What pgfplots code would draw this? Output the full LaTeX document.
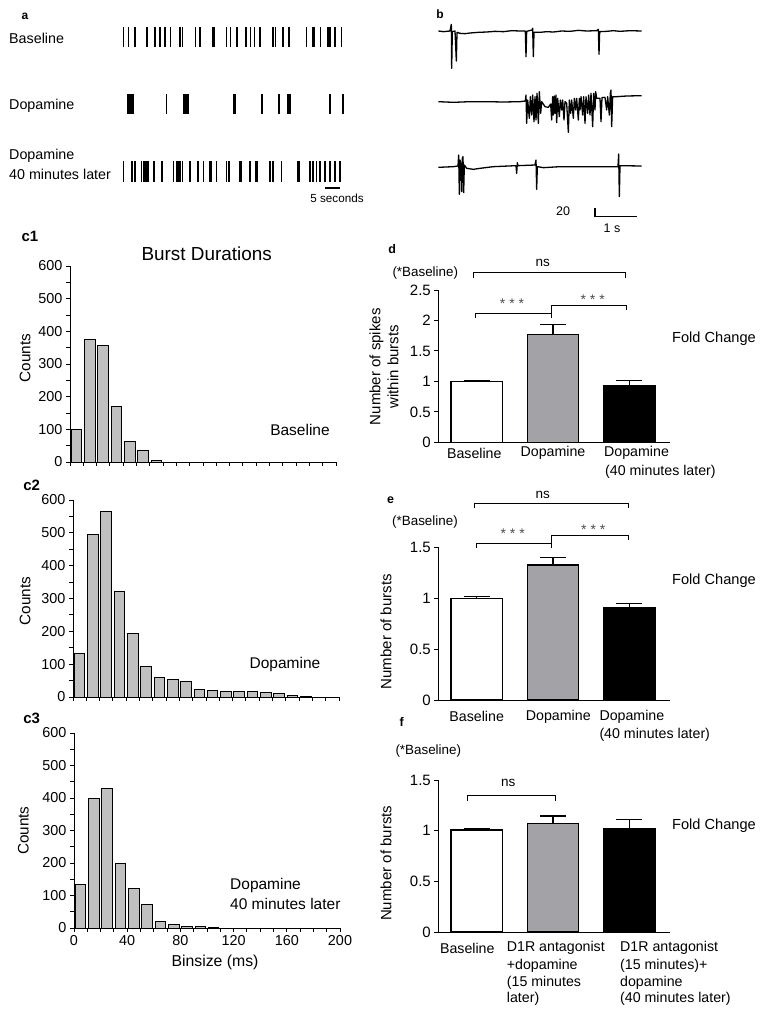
\documentclass[border=0pt]{standalone}
\usepackage{fontspec}
\setmainfont{Liberation Sans}
\usepackage{pgfplots}
\pgfplotsset{compat=1.18}
\definecolor{histgray}{RGB}{192,192,192}
\definecolor{bargray}{RGB}{163,163,167}
\pgfplotsset{
 hist/.style={scale only axis, width=266pt, xmin=0, xmax=200, ymin=0, ymax=600,
   axis lines=left, axis line style={-, line width=1pt}, tick align=outside,
   major tick length=4pt, minor tick length=4pt,
   xtick={0,40,...,200}, minor xtick={10,20,...,190},
   ytick={0,100,...,600}, minor ytick={50,150,...,550},
   tick style={black, line width=0.9pt}, ybar, bar width=8, bar shift=0pt,
   /pgf/number format/assume math mode=true,
   tick label style={font=\fontsize{14.4}{16}\selectfont}, clip=false},
 histbar/.style={fill=histgray, draw=black, line width=1pt},
 fold/.style={scale only axis, width=231.7pt, xmin=-0.5, xmax=2.53, ymin=0,
   axis lines=left, axis line style={-, line width=1pt}, tick align=outside,
   major tick length=4pt, xtick=\empty, ybar, bar width=0.67, bar shift=0pt,
   tick style={black, line width=0.9pt}, /pgf/number format/assume math mode=true,
   tick label style={font=\fontsize{15}{17}\selectfont}, clip=false},
 errb/.style={error bars/.cd, y dir=plus, y explicit, error mark=|,
   error mark options={black, mark size=13pt, line width=1.2pt},
   error bar style={black, line width=1.2pt}},
 raster/.style={scale only axis, hide axis, width=225pt, xmin=0, xmax=75, ymin=0, ymax=1, clip=false},
 spk/.style={ycomb, black, line width=1.6pt, mark=none},
 trace/.style={black, line width=1.3pt, line join=round, mark=none},
}
\begin{document}
\begin{tikzpicture}
\path[use as bounding box] (0,0) rectangle (765pt,-1018pt);

% ---------- panel a : rasters ----------
\begin{axis}[raster, height=20pt, at={(123.3pt,-47pt)}, anchor=south west]
\addplot[spk] coordinates {(0,1)(1.7,1)(3.8,1)(7.8,1)(10.6,1)(12.2,1)(13.9,1)(15.8,1)(18.9,1)(19.7,1)(24.1,1)(25.6,1)(29.7,1)(30.1,1)(30.4,1)(34.4,1)(35.8,1)(38,1)(40.9,1)(42.4,1)(43.7,1)(45.6,1)(50,1)(50.8,1)(53.3,1)(55.3,1)(61.1,1)(63.3,1)(63.8,1)(65.8,1)(68.3,1)(68.9,1)(70.6,1)(72.8,1)};
\end{axis}
\begin{axis}[raster, height=20pt, at={(123.3pt,-114pt)}, anchor=south west]
\addplot[spk] coordinates {(14.4,1)(46.3,1)(51.9,1)(68.9,1)(73.3,1)};
\addplot[spk, line width=7.5pt] coordinates {(2.35,1)};
\addplot[spk, line width=6.3pt] coordinates {(20.85,1)};
\addplot[spk, line width=2.8pt] coordinates {(37.15,1)};
\addplot[spk, line width=3.6pt] coordinates {(55.3,1)};
\end{axis}
\begin{axis}[raster, height=21pt, at={(123.3pt,-182pt)}, anchor=south west]
\addplot[spk] coordinates {(0,1)(2.8,1)(3.9,1)(6.1,1)(6.7,1)(7.2,1)(7.8,1)(8.3,1)(10.2,1)(12.8,1)(16.7,1)(17.8,1)(18.3,1)(18.9,1)(19.8,1)(22.2,1)(25,1)(26.7,1)(28.9,1)(29.4,1)(31.1,1)(34.4,1)(35.3,1)(38.9,1)(39.4,1)(42.2,1)(44.2,1)(44.8,1)(48.9,1)(50,1)(52.8,1)(58.1,1)(58.6,1)(62.2,1)(63.3,1)(64.4,1)(65.6,1)(67.2,1)(68.9,1)(70.6,1)(72.2,1)};
\end{axis}

% ---------- panel b : traces ----------
\begin{axis}[scale only axis, hide axis, width=345pt, height=225pt, xmin=0, xmax=1035, ymin=0, ymax=675, y dir=reverse, at={(420pt,0pt)}, anchor=north west, clip=false]
\addplot[trace] coordinates {(55,93)(70,95)(90,93)(94,73)(95,205)(97,95)(105,93)(109,183)(111,97)(120,100)(135,101)(150,99)(175,97)(200,96)(225,94)(250,95)(275,92)(300,93)(316,93)(318,170)(320,94)(336,90)(338,85)(340,170)(342,97)(360,97)(380,95)(400,96)(425,93)(450,94)(475,91)(500,93)(530,92)(535,88)(537,163)(539,95)(560,94)(580,92)(600,94)(630,92)(665,93)};
\addplot[trace] coordinates {(55,305)(100,307)(150,305)(200,305)(250,306)(300,305)(316,303)(318,285)(320,370)(323,300)(328,355)(331,290)(335,345)(338,285)(342,365)(345,290)(348,360)(351,280)(355,370)(358,275)(362,340)(365,305)(375,320)(385,322)(392,312)(395,360)(398,290)(400,345)(403,288)(405,340)(408,285)(410,368)(413,295)(418,350)(421,300)(425,330)(428,300)(432,360)(435,305)(440,310)(445,397)(448,300)(452,340)(455,300)(460,355)(463,295)(467,330)(470,295)(475,360)(478,295)(480,330)(483,290)(488,345)(491,290)(495,370)(498,290)(503,340)(506,285)(510,345)(513,280)(518,380)(521,280)(525,330)(527,275)(530,295)(540,295)(543,365)(546,293)(555,292)(560,330)(563,290)(568,345)(571,280)(573,270)(575,380)(578,290)(590,290)(620,288)(665,287)};
\addplot[trace] coordinates {(55,502)(100,500)(114,498)(116,465)(118,583)(120,480)(123,495)(125,575)(127,475)(129,470)(131,578)(133,495)(140,505)(160,508)(180,505)(220,500)(288,497)(290,520)(292,488)(294,497)(345,495)(348,480)(350,568)(352,500)(370,503)(420,500)(500,500)(594,500)(596,462)(598,590)(600,497)(665,498)};
\addplot[black, line width=1.1pt, mark=none] coordinates {(525,625)(525,650)(652,650)};
\end{axis}

% ---------- panel c : histograms ----------
\begin{axis}[hist, height=196pt, at={(70pt,-462pt)}, anchor=south west, xticklabels={}]
\addplot[histbar] coordinates {(5,100)(15,374)(25,357)(35,170)(45,64)(55,35)(65,6)};
\end{axis}
\begin{axis}[hist, height=197pt, at={(73pt,-697pt)}, anchor=south west, xticklabels={}]
\addplot[histbar] coordinates {(5,132)(15,496)(25,566)(35,320)(45,192)(55,94)(65,59)(75,52)(85,47)(95,23)(105,21)(115,18)(125,16)(135,16)(145,13)(155,11)(165,6)(175,2)};
\end{axis}
\begin{axis}[hist, height=195pt, at={(74pt,-928pt)}, anchor=south west]
\addplot[histbar] coordinates {(5,134)(15,400)(25,430)(35,200)(45,121)(55,71)(65,19)(75,11)(85,6)(95,4)(105,2)};
\end{axis}

% ---------- panels d, e, f : fold change ----------
\begin{axis}[fold, height=152.3pt, ymax=2.5, ytick={0,0.5,1,1.5,2,2.5}, yticklabels={0,0.5,1,1.5,2,2.5}, at={(438.3pt,-442.3pt)}, anchor=south west]
\addplot[fill=white, draw=black, line width=1.2pt, errb] table[y error index=2] {0 1.0 0.02
};
\addplot[fill=bargray, draw=black, line width=1.2pt, errb] table[y error index=2] {1 1.77 0.17
};
\addplot[fill=black, draw=black, line width=1.2pt, errb] table[y error index=2] {2 0.93 0.09
};
\end{axis}
\begin{axis}[fold, height=152.7pt, ymax=1.5, ytick={0,0.5,1,1.5}, yticklabels={0,0.5,1,1.5}, at={(438.3pt,-700pt)}, anchor=south west]
\addplot[fill=white, draw=black, line width=1.2pt, errb] table[y error index=2] {0 1.0 0.015
};
\addplot[fill=bargray, draw=black, line width=1.2pt, errb] table[y error index=2] {1 1.327 0.073
};
\addplot[fill=black, draw=black, line width=1.2pt, errb] table[y error index=2] {2 0.91 0.037
};
\end{axis}
\begin{axis}[fold, height=152pt, ymax=1.5, ytick={0,0.5,1,1.5}, yticklabels={0,0.5,1,1.5}, at={(438.3pt,-932pt)}, anchor=south west]
\addplot[fill=white, draw=black, line width=1.2pt, errb] table[y error index=2] {0 1.007 0.01
};
\addplot[fill=bargray, draw=black, line width=1.2pt, errb] table[y error index=2] {1 1.072 0.073
};
\addplot[fill=black, draw=black, line width=1.2pt, errb] table[y error index=2] {2 1.02 0.09
};
\end{axis}

% ---------- text ----------
\begin{scope}[x=1pt, y=-1pt]
\tikzset{every node/.style={inner sep=0pt}}
% a
\node[font=\fontsize{12}{14}\bfseries\selectfont] at (25,16) {a};
\node[anchor=west, font=\fontsize{14.3}{16}\selectfont] at (9,38) {Baseline};
\node[anchor=west, font=\fontsize{14.3}{16}\selectfont] at (9,106) {Dopamine};
\node[anchor=west, font=\fontsize{14.3}{16}\selectfont] at (9,156) {Dopamine};
\node[anchor=west, font=\fontsize{14.3}{16}\selectfont] at (9,174) {40 minutes later};
\draw[line width=1.5pt] (325,188) -- (340,188);
\node[font=\fontsize{11.7}{13}\selectfont] at (337,198.5) {5 seconds};
% b
\node[font=\fontsize{12}{14}\bfseries\selectfont] at (440,14) {b};
\node[font=\fontsize{12.5}{14}\selectfont] at (563,211) {20};
\node[font=\fontsize{12.5}{14}\selectfont] at (612,228) {1 s};
% c
\node[font=\fontsize{15}{17}\bfseries\selectfont] at (30,236) {c1};
\node[font=\fontsize{15}{17}\bfseries\selectfont] at (31.7,485) {c2};
\node[font=\fontsize{15}{17}\bfseries\selectfont] at (31.7,718) {c3};
\node[font=\fontsize{18.9}{21}\selectfont] at (206.7,253.3) {Burst Durations};
\node[font=\fontsize{15.5}{17}\selectfont] at (300,430) {Baseline};
\node[font=\fontsize{15.5}{17}\selectfont] at (285,664) {Dopamine};
\node[anchor=west, font=\fontsize{15.5}{17}\selectfont] at (230,885) {Dopamine};
\node[anchor=west, font=\fontsize{15.5}{17}\selectfont] at (230,904) {40 minutes later};
\node[rotate=90, font=\fontsize{15.3}{17}\selectfont] at (25,358) {Counts};
\node[rotate=90, font=\fontsize{15.3}{17}\selectfont] at (25,601) {Counts};
\node[rotate=90, font=\fontsize{15.3}{17}\selectfont] at (23.3,830.7) {Counts};
\node[font=\fontsize{15.8}{18}\selectfont] at (215,962) {Binsize (ms)};
% d
\node[font=\fontsize{12.5}{14}\bfseries\selectfont] at (392.3,249.3) {d};
\node[font=\fontsize{13.4}{15}\selectfont] at (425.3,273.3) {(*Baseline)};
\node[font=\fontsize{13.5}{15}\selectfont] at (542.7,262.7) {ns};
\draw[line width=1pt] (473.3,278.3) -- (473.3,272.7) -- (625.7,272.7) -- (625.7,278.3);
\node[font=\fontsize{14}{15}\selectfont, text=black!70] at (512,303.3) {* * *};
\node[font=\fontsize{14}{15}\selectfont, text=black!70] at (592.7,299.3) {* * *};
\draw[line width=1pt] (475.7,318.3) -- (475.7,313.3) -- (551,313.3);
\draw[line width=1pt] (551,318.3) -- (551,305) -- (626.7,305) -- (626.7,310);
\node[rotate=90, align=center, font=\fontsize{15}{18}\selectfont] at (384,366.7) {Number of spikes\\within bursts};
\node[font=\fontsize{14.6}{16}\selectfont] at (714,338.3) {Fold Change};
\node[font=\fontsize{14.2}{16}\selectfont] at (474.3,453.3) {Baseline};
\node[font=\fontsize{14.2}{16}\selectfont] at (553,453.3) {Dopamine};
\node[anchor=west, font=\fontsize{14.2}{16}\selectfont] at (604,453.3) {Dopamine};
\node[anchor=west, font=\fontsize{14.2}{16}\selectfont] at (605,471.7) {(40 minutes later)};
% e
\node[font=\fontsize{12.5}{14}\bfseries\selectfont] at (390.7,500) {e};
\node[font=\fontsize{13.4}{15}\selectfont] at (425,521.7) {(*Baseline)};
\node[font=\fontsize{13.5}{15}\selectfont] at (542.7,495) {ns};
\draw[line width=1pt] (474.3,508.3) -- (474.3,503.3) -- (628.3,503.3) -- (628.3,508.3);
\node[font=\fontsize{14}{15}\selectfont, text=black!70] at (512.7,533.3) {* * *};
\node[font=\fontsize{14}{15}\selectfont, text=black!70] at (593.3,529.3) {* * *};
\draw[line width=1pt] (476.7,548.3) -- (476.7,543.3) -- (551.7,543.3);
\draw[line width=1pt] (551.7,548.3) -- (551.7,535) -- (628.3,535) -- (628.3,540);
\node[rotate=90, font=\fontsize{15}{18}\selectfont] at (386,631.7) {Number of bursts};
\node[font=\fontsize{14.6}{16}\selectfont] at (714,581) {Fold Change};
\node[font=\fontsize{14.2}{16}\selectfont] at (476.7,716.7) {Baseline};
\node[font=\fontsize{14.2}{16}\selectfont] at (558.3,716.7) {Dopamine};
\node[anchor=west, font=\fontsize{14.2}{16}\selectfont] at (599.3,716.7) {Dopamine};
\node[anchor=west, font=\fontsize{14.2}{16}\selectfont] at (599.3,735) {(40 minutes later)};
% f
\node[font=\fontsize{12.5}{14}\bfseries\selectfont] at (401.7,721.7) {f};
\node[font=\fontsize{13.4}{15}\selectfont] at (428.3,750.7) {(*Baseline)};
\node[font=\fontsize{13.5}{15}\selectfont] at (508.3,782.7) {ns};
\draw[line width=1pt] (467.3,800.7) -- (467.3,795) -- (555,795) -- (555,800.7);
\node[rotate=90, font=\fontsize{15}{18}\selectfont] at (386,863.3) {Number of bursts};
\node[font=\fontsize{14.6}{16}\selectfont] at (714,826) {Fold Change};
\node[font=\fontsize{14.2}{16}\selectfont] at (467.3,948.3) {Baseline};
\node[anchor=west, font=\fontsize{14.2}{16}\selectfont] at (506.7,948.3) {D1R antagonist};
\node[anchor=west, font=\fontsize{14.2}{16}\selectfont] at (506.7,966) {+dopamine};
\node[anchor=west, font=\fontsize{14.2}{16}\selectfont] at (506.7,982.7) {(15 minutes};
\node[anchor=west, font=\fontsize{14.2}{16}\selectfont] at (506.7,999.3) {later)};
\node[anchor=west, font=\fontsize{14.2}{16}\selectfont] at (620,948.3) {D1R antagonist};
\node[anchor=west, font=\fontsize{14.2}{16}\selectfont] at (620,966) {(15 minutes)+};
\node[anchor=west, font=\fontsize{14.2}{16}\selectfont] at (620,982.7) {dopamine};
\node[anchor=west, font=\fontsize{14.2}{16}\selectfont] at (620,999.3) {(40 minutes later)};
\end{scope}
\end{tikzpicture}
\end{document}
